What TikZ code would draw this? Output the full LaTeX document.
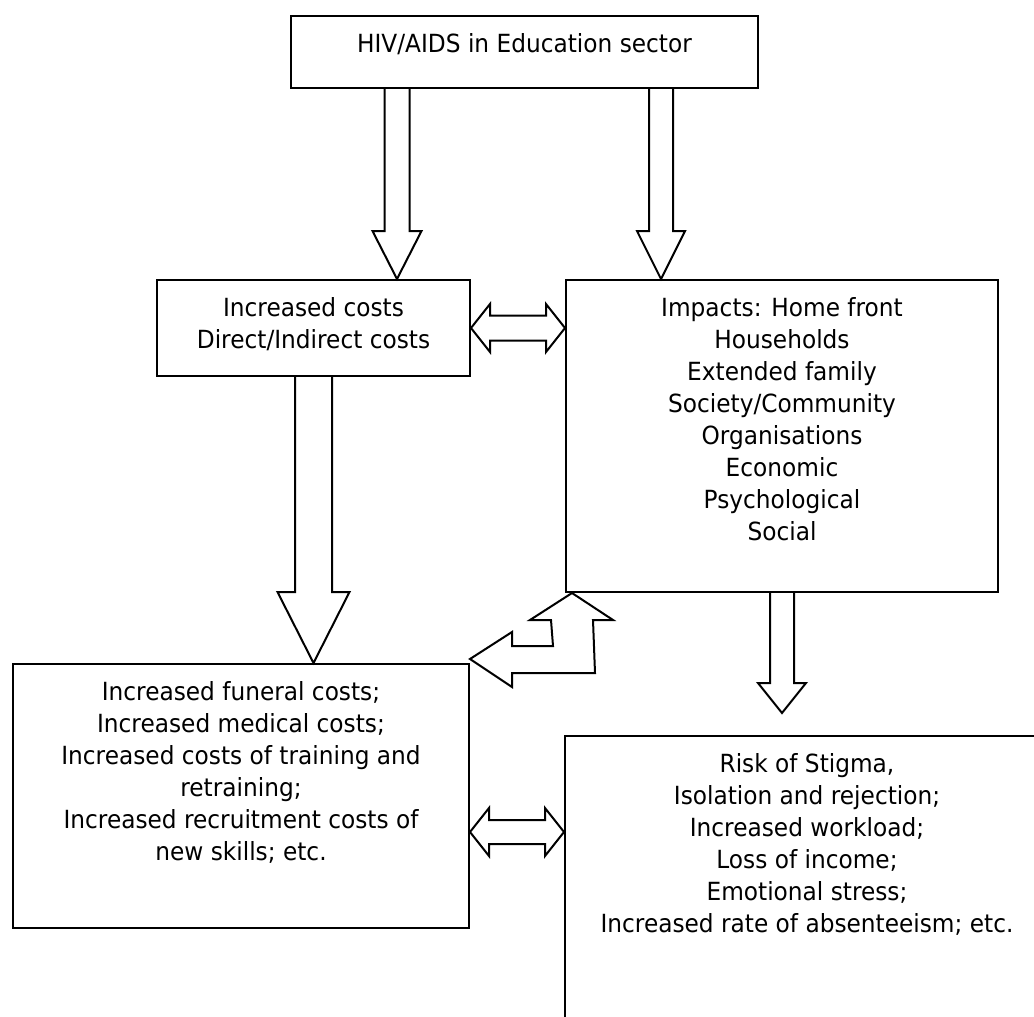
\documentclass[tikz,border=0pt]{standalone}
\usepackage{fontspec}
\setmainfont{DejaVu Sans}[FakeStretch=0.93]
\usetikzlibrary{positioning,calc}

\tikzset{
    box/.style={draw, line width=1pt, inner sep=0pt, anchor=north west},
    boxtext/.style={align=center, inner sep=0pt, font=\fontsize{12.5}{16}\selectfont},
    blockarrow/.style={draw, line width=1pt, line join=miter},
}

% vertical block arrow: start edge, tip, shaft half width, head half width, head length
\newcommand{\blockv}[5]{
    \draw[blockarrow] ($(#1 -| #2)+(-#3,0)$) -- ($(#2)+(-#3,-#5)$) -- ($(#2)+(-#4,-#5)$) -- (#2)
        -- ($(#2)+(#4,-#5)$) -- ($(#2)+(#3,-#5)$) -- ($(#1 -| #2)+(#3,0)$);
}
% horizontal double block arrow: left tip, right tip, shaft half width, head half width, head length
\newcommand{\blockh}[5]{
    \draw[blockarrow] (#1) -- ($(#1)+(#5,-#4)$) -- ($(#1)+(#5,-#3)$) -- ($(#2)+(-#5,-#3)$) -- ($(#2)+(-#5,-#4)$) -- (#2)
        -- ($(#2)+(-#5,#4)$) -- ($(#2)+(-#5,#3)$) -- ($(#1)+(#5,#3)$) -- ($(#1)+(#5,#4)$) -- cycle;
}

\begin{document}
\begin{tikzpicture}[x=0.5pt, y=-0.5pt]
    \useasboundingbox (0,0) rectangle (1034,1017);
    \clip (0,0) rectangle (1034,1017);

    % boxes (sizes in pt, half the pixel size)
    \node[box, minimum width=233.5pt, minimum height=36pt] (top) at (290,15) {};
    \node[box, minimum width=156.5pt, minimum height=48pt] (costs) at (156,279) {};
    \node[box, minimum width=216pt, minimum height=156pt] (impacts) at (565,279) {};
    \node[box, minimum width=228pt, minimum height=132pt] (bleft) at (12,663) {};
    \node[box, minimum width=242pt, minimum height=200pt] (bright) at (564,735) {};

    % texts
    \node[boxtext, below=9pt of top.north] (top-txt) {HIV/AIDS in Education sector};
    \node[boxtext, below=9pt of costs.north] (costs-txt) {Increased costs\\Direct/Indirect costs};
    \node[boxtext, below=9pt of impacts.north] (impacts-txt) {Impacts: Home front\\Households\\Extended family\\Society/Community\\Organisations\\Economic\\Psychological\\Social};
    \node[boxtext, below=9pt of bleft.north] (bleft-txt) {Increased funeral costs;\\Increased medical costs;\\Increased costs of training and\\retraining;\\Increased recruitment costs of\\new skills; etc.};
    \node[boxtext, below=9pt of bright.north] (bright-txt) {Risk of Stigma,\\Isolation and rejection;\\Increased workload;\\Loss of income;\\Emotional stress;\\Increased rate of absenteeism; etc.};

    % down arrows
    \coordinate (t1) at ($(costs.north west)+(241,0)$);
    \coordinate (t2) at ($(impacts.north west)+(96,0)$);
    \coordinate (t3) at (costs.south |- bleft.north);
    \coordinate (t4) at ($(impacts.south)+(0,120)$);
    \blockv{top.south}{t1}{12.5}{24.5}{48}
    \blockv{top.south}{t2}{12}{24}{48}
    \blockv{costs.south}{t3}{18.5}{36}{71}
    \blockv{impacts.south}{t4}{12}{24}{30}

    % double arrows
    \coordinate (d1) at (costs.east -| impacts.west);
    \blockh{costs.east}{d1}{12.5}{24}{19}
    \coordinate (d2a) at ($(bleft.north east)+(0,169)$);
    \coordinate (d2b) at (d2a -| bright.west);
    \blockh{d2a}{d2b}{12}{24}{19}

    % bent arrow
    \coordinate (ut) at ($(impacts.south west)+(7,0)$);
    \coordinate (lt) at ($(bleft.north east)+(0,-4)$);
    \draw[blockarrow] (ut) -- ($(ut)+(41,27)$) -- ($(ut)+(21,27)$) -- ($(lt)+(125,14)$) -- ($(lt)+(42,14)$)
        -- ($(lt)+(42,28)$) -- (lt) -- ($(lt)+(42,-27)$) -- ($(lt)+(42,-13)$) -- ($(lt)+(83,-13)$)
        -- ($(ut)+(-21,27)$) -- ($(ut)+(-42,27)$) -- cycle;
\end{tikzpicture}
\end{document}
